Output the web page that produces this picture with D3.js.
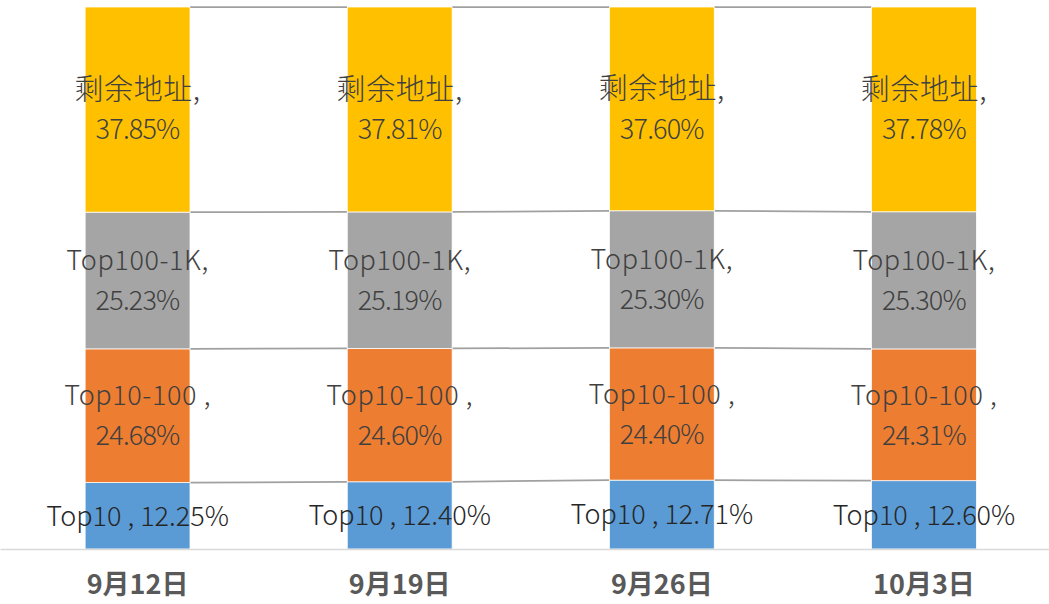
<!DOCTYPE html>
<html><head><meta charset="utf-8">
<script src="https://cdn.jsdelivr.net/npm/d3@7"></script>
<style>
html,body{margin:0;padding:0;background:#fff;}
svg{display:block;}
</style></head>
<body>
<svg id="chart" width="1049" height="604"></svg>
<script>
const categories = ["9月12日", "9月19日", "9月26日", "10月3日"];
const seriesNames = ["Top10", "Top10-100", "Top100-1K", "剩余地址"];
const top10 = [12.25, 12.40, 12.71, 12.60];
const top10to100 = [24.68, 24.60, 24.40, 24.31];
const top100to1k = [25.23, 25.19, 25.30, 25.30];
const remaining = [37.85, 37.81, 37.60, 37.78];
const labelSeparators = [" , ", " ,\n", ",\n", ",\n"];
const colors = ["#5B9BD5", "#ED7D31", "#A5A5A5", "#FFC000"];
const watermarkText = "Huobi Research";

const seriesValues = [top10, top10to100, top100to1k, remaining];
const rows = categories.map((c, i) => {
  const r = {cat: c};
  seriesNames.forEach((s, j) => r[s] = seriesValues[j][i]);
  return r;
});

const svg = d3.select("#chart");
const x = d3.scaleBand().domain(categories).range([6.5, 1055]).paddingInner(0.6).paddingOuter(0.3);
const y = d3.scaleLinear().domain([0, 1]).range([549, 7]);

const stack = d3.stack().keys(seriesNames).offset(d3.stackOffsetExpand);
const stacked = stack(rows);

// series lines
const lineG = svg.append("g");
stacked.forEach(layer => {
  for (let i = 0; i < categories.length - 1; i++) {
    lineG.append("line")
      .attr("x1", x(categories[i]) + x.bandwidth())
      .attr("x2", x(categories[i + 1]))
      .attr("y1", y(layer[i][1]))
      .attr("y2", y(layer[i + 1][1]))
      .attr("stroke", "#A0A0A0")
      .attr("stroke-width", 1.75);
  }
});

// bars
const barG = svg.append("g");
stacked.forEach((layer, j) => {
  barG.selectAll(null).data(layer).enter().append("rect")
    .attr("x", d => x(d.data.cat))
    .attr("width", x.bandwidth())
    .attr("y", d => y(d[1]))
    .attr("height", d => y(d[0]) - y(d[1]))
    .attr("fill", colors[j])
    .attr("stroke", "#fff")
    .attr("stroke-width", 0.75);
});

// axis baseline
const xAxis = d3.axisBottom(x).tickSize(0).tickPadding(25);
const axG = svg.append("g").attr("transform", "translate(0,549.5)").call(xAxis);
axG.select(".domain").attr("stroke", "#D9D9D9").attr("stroke-width", 1.5).attr("d", "M0.5,0H1049");
axG.selectAll(".tick text")
  .attr("fill", "#595959")
  .attr("font-family", "'Noto Sans CJK SC', sans-serif")
  .attr("font-weight", "bold")
  .attr("font-size", 27)
  .attr("dy", "0.71em");

// watermark (faint)
const wmG = svg.append("g").attr("pointer-events", "none");
const wmRows = [85, 300, 515];
const wmCols = [240, 570, 900];
wmRows.forEach(wy => {
  wmCols.forEach(wx => {
    wmG.append("text")
      .attr("transform", `translate(${wx},${wy}) rotate(-27)`)
      .attr("text-anchor", "middle")
      .attr("dominant-baseline", "middle")
      .attr("font-family", "'Noto Sans', sans-serif")
      .attr("font-weight", "bold")
      .attr("font-size", 34)
      .attr("fill", "#000")
      .attr("fill-opacity", 0.025)
      .text(watermarkText);
  });
});

// data labels
const labG = svg.append("g")
  .attr("font-family", "'Noto Sans CJK SC', sans-serif")
  .attr("font-weight", 300)
  .attr("font-size", 27);
stacked.forEach((layer, j) => {
  layer.forEach((d, i) => {
    const val = seriesValues[j][i].toFixed(2) + "%";
    const txt = seriesNames[j] + labelSeparators[j] + val;
    const lines = txt.split("\n");
    const cx = x(d.data.cat) + x.bandwidth() / 2;
    const cy = (y(d[0]) + y(d[1])) / 2;
    const lh = 40;
    const t = labG.append("text")
      .attr("text-anchor", "middle")
      .attr("fill", j === 0 ? "#262626" : "#404040")
      .attr("transform", `translate(${cx},${cy})`);
    lines.forEach((ln, k) => {
      const isCjk = /[\u4e00-\u9fff]/.test(ln);
      t.append("tspan")
        .attr("x", 0)
        .attr("y", (k - (lines.length - 1) / 2) * lh)
        .attr("dy", "0.36em")
        .attr("font-size", isCjk ? 29 : null)
        .attr("letter-spacing", lines.length > 1 ? (k === 0 ? 0.6 : -0.8) : 0)
        .text(ln);
    });
  });
});
</script>
</body></html>
